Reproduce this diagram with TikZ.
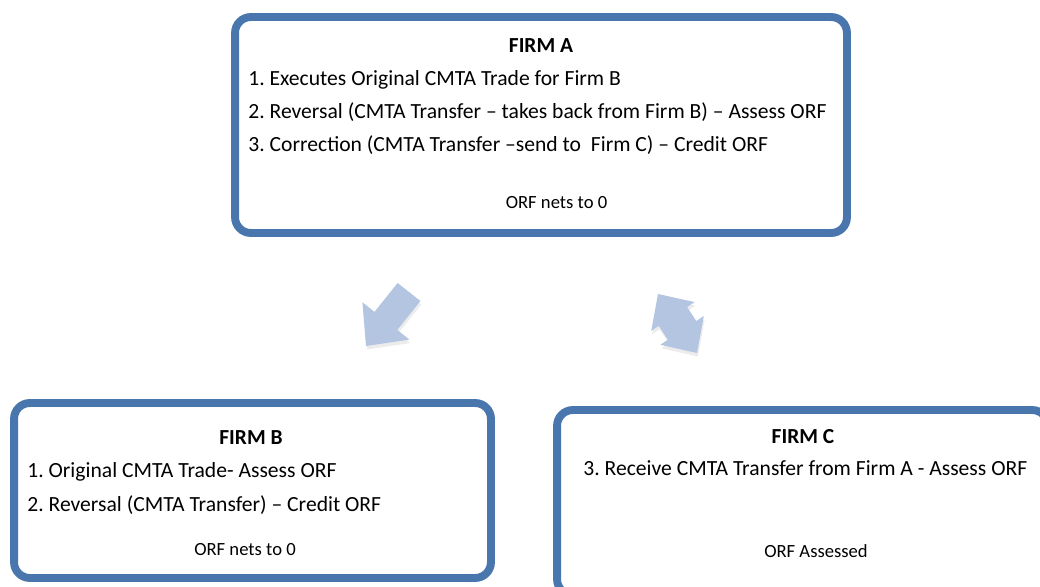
\documentclass[tikz,border=0pt]{standalone}
\usepackage{fontspec}
\setmainfont{Carlito}
\frenchspacing
\usetikzlibrary{shadows}

\definecolor{boxblue}{RGB}{74,118,174}
\definecolor{arrowblue}{RGB}{180,197,225}

\tikzset{
  firmbox/.style={draw=boxblue, line width=4.5pt, fill=white, rounded corners=9pt,
    drop shadow={opacity=0.2, shadow xshift=1.5pt, shadow yshift=-1.5pt}},
  head/.style={font=\fontsize{12.2}{14}\selectfont\bfseries, anchor=base, inner sep=0pt},
  item/.style={font=\fontsize{12.3}{14}\selectfont, anchor=base west, inner sep=0pt},
  foot/.style={font=\fontsize{10.6}{12}\selectfont, anchor=base, inner sep=0pt},
  blockarrow/.style={fill=arrowblue,
    drop shadow={opacity=0.15, shadow xshift=0.5pt, shadow yshift=-2pt}},
}

\begin{document}
\begin{tikzpicture}[x=0.02cm, y=-0.02cm]
\useasboundingbox (0,0) rectangle (1040,587);
\clip (0,0) rectangle (1040,587);

% the three firms
\node (firmA) [firmbox, minimum width=12.24cm, minimum height=4.32cm] at (541,125) {};
\node (firmB) [firmbox, minimum width=9.54cm, minimum height=3.5cm] at (252.5,490.5) {};
\node (firmC) [firmbox, minimum width=9.82cm, minimum height=3.7cm] at (802.5,502.5) {};

% firm A
\node (headA) [head] at (541,53) {FIRM A};
\node (a1) [item] at (248,86) {1. Executes Original CMTA Trade for Firm B};
\node (a2) [item] at (248,119) {2. Reversal (CMTA Transfer – takes back from Firm B) – Assess ORF};
\node (a3) [item] at (248,152) {3. Correction (CMTA Transfer –send to~ Firm C) – Credit ORF};
\node (footA) [foot] at (556.5,209) {ORF nets to 0};

% firm B
\node (headB) [head] at (251,444) {FIRM B};
\node (b1) [item] at (27,477) {1. Original CMTA Trade- Assess ORF};
\node (b2) [item] at (27,511) {2. Reversal (CMTA Transfer) – Credit ORF};
\node (footB) [foot] at (245,555) {ORF nets to 0};

% firm C
\node (headC) [head] at (803,443) {FIRM C};
\node (c1) [item] at (583,475) {3. Receive CMTA Transfer from Firm A - Assess ORF};
\node (footC) [foot] at (816,557) {ORF Assessed};

% block arrows between the firms
\fill[blockarrow] (420.4,301.0) -- (397.3,329.9) -- (409.4,339.6) -- (366,346)
  -- (362.4,302.2) -- (374.5,311.9) -- (397.6,283.0) -- cycle;
\fill[blockarrow] (658,294) -- (694.6,302.1) -- (687.1,307.1) -- (696.3,321.0)
  -- (703.8,316.0) -- (697,353) -- (660.4,344.8) -- (667.9,339.8)
  -- (658.7,325.9) -- (651.2,330.9) -- cycle;
\end{tikzpicture}
\end{document}
